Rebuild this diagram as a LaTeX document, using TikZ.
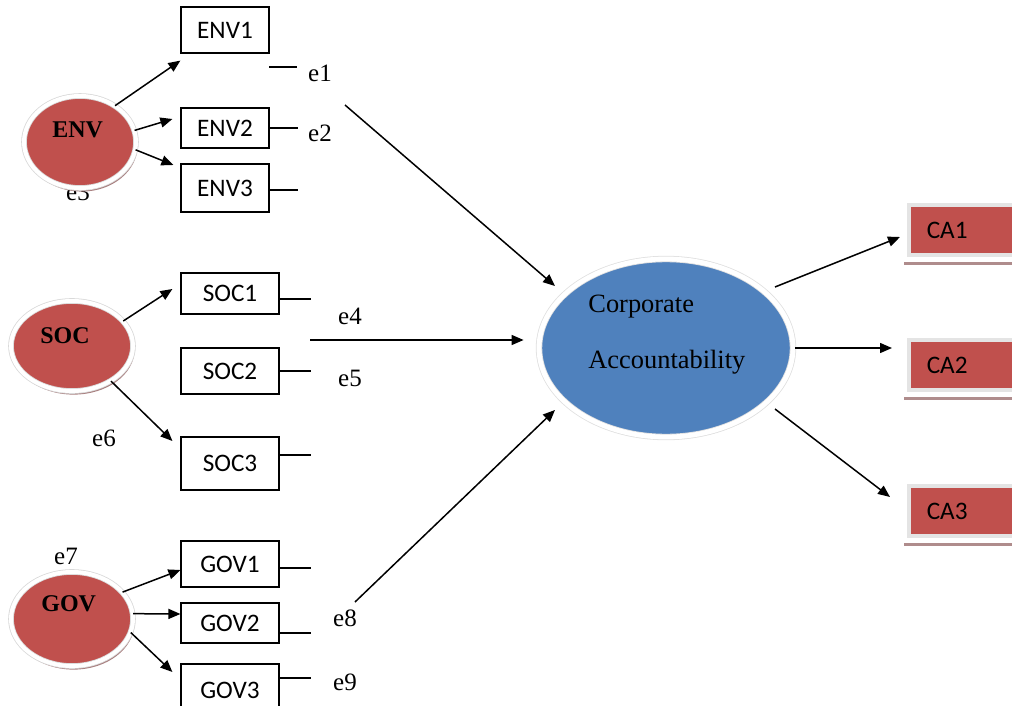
\documentclass[tikz,border=0pt]{standalone}
\usepackage{fontspec}
\setmainfont{Liberation Serif}
\newfontfamily\boxfont{Carlito}
\usetikzlibrary{shapes.geometric,arrows.meta,calc,shadows}
\definecolor{latred}{RGB}{192,80,77}
\definecolor{cablue}{RGB}{79,129,189}
\definecolor{ringgray}{RGB}{228,228,228}
\definecolor{shadowred}{RGB}{160,115,115}
\definecolor{cashadow}{RGB}{175,140,140}
\tikzset{
  ind/.style={draw, line width=0.6pt, fill=white, minimum width=44pt, font=\boxfont\fontsize{12.6}{14}\selectfont, inner sep=0pt},
  latent/.style={ellipse, fill=latred, draw=black!15, double=white, double distance=2pt, line width=0.4pt, inner sep=0pt,
     drop shadow={shadow xshift=0.8pt, shadow yshift=-1.8pt, fill=shadowred, opacity=0.9}},
  ltext/.style={font=\bfseries\fontsize{12}{14}\selectfont, anchor=base west, inner sep=0pt},
  elab/.style={font=\fontsize{12.5}{14}\selectfont, inner sep=0pt},
  arr/.style={-{Triangle[length=6pt,width=5pt]}, line width=0.75pt},
  ln/.style={line width=0.6pt},
  cabox/.style={anchor=west, fill=latred, draw=ringgray, line width=1.8pt, minimum height=25pt,
     inner xsep=9pt, text width=40pt, align=left, font=\boxfont\fontsize{12.6}{14}\selectfont},
  catext/.style={font=\fontsize{13.2}{15}\selectfont, anchor=base west, inner sep=0pt},
}
\begin{document}
\begin{tikzpicture}[x=0.5pt,y=-0.5pt]
\useasboundingbox (0,0) rectangle (1012,706);
% hidden e3 label behind ENV
\node[elab] (e3) at (78,192) {e3};
% latent ellipses
\node[latent, minimum width=56pt, minimum height=46pt] (env) at (80,142) {};
\node[latent, minimum width=61pt, minimum height=45pt] (soc) at (72,346) {};
\node[latent, minimum width=61pt, minimum height=47pt] (gov) at (72,619) {};
\node[ltext] (envt) at (52,138) {ENV};
\node[ltext] (soct) at (40,343) {SOC};
\node[ltext] (govt) at (41,611) {GOV};
% indicators
\node[ind, minimum height=23pt] (env1) at (225,30) {ENV1};
\node[ind, minimum height=20pt] (env2) at (225,128) {ENV2};
\node[ind, minimum height=24pt] (env3) at (225,188) {ENV3};
\node[ind, minimum width=49pt, minimum height=20.5pt] (soc1) at (230,293.5) {SOC1};
\node[ind, minimum width=49pt, minimum height=23pt] (soc2) at (230,371) {SOC2};
\node[ind, minimum width=49pt, minimum height=26.5pt] (soc3) at (230,463.5) {SOC3};
\node[ind, minimum width=49pt, minimum height=23pt] (gov1) at (230,564) {GOV1};
\node[ind, minimum width=49pt, minimum height=20pt] (gov2) at (230,623) {GOV2};
\node[ind, minimum width=49pt, minimum height=26pt, text depth=0pt] (gov3) at (230,690) {GOV3};
% error stubs
\coordinate (s1a) at (269,67); \coordinate (s1b) at (297,67);
\draw[ln] (s1a) -- (s1b);
\draw[ln] (env2.east) -- ++(28,0);
\draw[ln] (env3.east |- 0,190) -- ++(28,0);
\draw[ln] (soc1.east |- 0,299) -- ++(31,0);
\draw[ln] (soc2.east |- 0,371) -- ++(31,0);
\draw[ln] (soc3.east |- 0,455) -- ++(31,0);
\draw[ln] (gov1.east |- 0,568) -- ++(31,0);
\draw[ln] (gov2.east |- 0,633) -- ++(31,0);
\draw[ln] (gov3.east |- 0,678) -- ++(31,0);
% error labels
\node[elab] (e1) at (320,73) {e1};
\node[elab] (e2) at (320,133) {e2};
\node[elab] (e4) at (350,316) {e4};
\node[elab] (e5) at (350,378) {e5};
\node[elab] (e6) at (104,438) {e6};
\node[elab] (e7) at (66,556) {e7};
\node[elab] (e8) at (345,618) {e8};
\node[elab] (e9) at (345,682) {e9};
% loadings
\draw[arr] (env.46) -- ($(env1.south west)+(0,7)$);
\draw[arr] (env.12) -- ($(env2.west)+(-8,-9)$);
\draw[arr] (env.-8) -- ($(env3.west)+(-7,-23)$);
\draw[arr] (soc.26) -- ($(soc1.west)+(-8,-4.5)$);
\draw[arr] (soc.-42) -- ($(soc3.west)+(-8,-22.5)$);
\draw[arr] (gov.28) -- ($(gov1.west)+(0,6)$);
\draw[arr] (gov.5) -- ($(gov2.west)+(0,-9)$);
\draw[arr] (gov.-13) -- ($(gov3.west)+(-8,-18)$);
% central construct
\node[ellipse, fill=cablue, draw=black!12, double=white, double distance=2.4pt, line width=0.4pt,
   minimum width=127pt, minimum height=89pt,
   drop shadow={shadow xshift=0.8pt, shadow yshift=-1.2pt, fill=black!25, opacity=0.8}] (ca) at (666,348) {};
\node[catext] (cat1) at (588,312) {Corporate};
\node[catext] (cat2) at (588,368) {Accountability};
\coordinate (p1) at (345,105);
\coordinate (p2) at (310,340);
\coordinate (p3) at (355,602);
\draw[arr] (p1) -- ($(ca.center)+(-111,-62)$);
\draw[arr] (p2) -- ($(ca.west)+(-15,-8)$);
\draw[arr] (p3) -- ($(ca.center)+(-111,62)$);
% outcome boxes
\foreach \n/\y in {1/230, 2/365, 3/511} {
  \draw[cashadow, line width=1.5pt] (904,\y+33) -- (1012,\y+33);
}
\node[cabox] (ca1) at (907,230) {CA1};
\node[cabox] (ca2) at (907,365) {CA2};
\node[cabox] (ca3) at (907,511) {CA3};
\draw[arr] ($(ca.center)+(109,-61)$) -- ($(ca1.west)+(-7,7)$);
\draw[arr] ($(ca.center)+(129,0)$) -- ($(ca2.west)+(-15,-17)$);
\draw[arr] ($(ca.center)+(109,61)$) -- ($(ca3.west)+(-17,-14)$);
\end{tikzpicture}
\end{document}
